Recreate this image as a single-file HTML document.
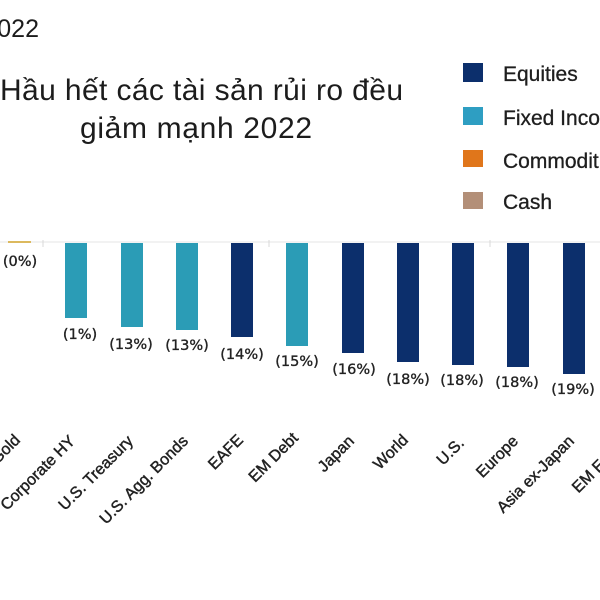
<!DOCTYPE html>
<html>
<head>
<meta charset="utf-8">
<style>
  html, body { margin: 0; padding: 0; background: #ffffff; }
  body { width: 600px; height: 600px; overflow: hidden; }
  svg { display: block; }
  .ttl { font-family: "Liberation Sans", "DejaVu Sans", sans-serif; fill: #1c1c1c; }
  .leg { font-family: "Liberation Sans", sans-serif; font-size: 21px; fill: #1e1e1e; stroke: #1e1e1e; stroke-width: 0.3px; }
  .val { font-family: "DejaVu Sans", "Liberation Sans", sans-serif; font-size: 14.5px; fill: #222; stroke: #222; stroke-width: 0.35px; text-anchor: middle; }
  .cat { font-family: "Liberation Sans", sans-serif; font-size: 16px; fill: #222; stroke: #222; stroke-width: 0.45px; text-anchor: end; }
</style>
</head>
<body>
<svg width="600" height="600" viewBox="0 0 600 600" xmlns="http://www.w3.org/2000/svg">
  <rect x="0" y="0" width="600" height="600" fill="#ffffff"/>

  <!-- top-left partial year -->
  <text class="ttl" x="39" y="37" font-size="25" text-anchor="end">2022</text>

  <!-- title -->
  <text class="ttl" x="0" y="100" font-size="30" textLength="403" lengthAdjust="spacing">Hầu hết các tài sản rủi ro đều</text>
  <text class="ttl" x="80" y="138" font-size="30" textLength="232" lengthAdjust="spacing">giảm mạnh 2022</text>

  <!-- legend -->
  <rect x="463" y="63" width="20" height="19" fill="#0c2f6c"/>
  <text class="leg" x="503" y="81">Equities</text>
  <rect x="463" y="107" width="20" height="18" fill="#2e9ec2"/>
  <text class="leg" x="503" y="125">Fixed Income</text>
  <rect x="463" y="150" width="20" height="17" fill="#e0761b"/>
  <text class="leg" x="503" y="168">Commodities</text>
  <rect x="463" y="192" width="20" height="17" fill="#b38f78"/>
  <text class="leg" x="503" y="209">Cash</text>

  <!-- zero line -->
  <line x1="0" y1="242" x2="600" y2="242" stroke="#e6e6e6" stroke-width="1"/>
  <line x1="43" y1="240" x2="43" y2="247" stroke="#d8d8d8" stroke-width="1"/>
  <line x1="269" y1="240" x2="269" y2="247" stroke="#d8d8d8" stroke-width="1"/>
  <line x1="490" y1="240" x2="490" y2="247" stroke="#d8d8d8" stroke-width="1"/>

  <!-- gold -->
  <rect x="8" y="241" width="23" height="2" fill="#dcb95e"/>

  <!-- bars -->
  <rect x="65"  y="243" width="22" height="75"  fill="#2b9cb6"/>
  <rect x="121" y="243" width="22" height="84"  fill="#2b9cb6"/>
  <rect x="176" y="243" width="22" height="87"  fill="#2b9cb6"/>
  <rect x="231" y="243" width="22" height="94"  fill="#0c2f6c"/>
  <rect x="286" y="243" width="22" height="103" fill="#2b9cb6"/>
  <rect x="342" y="243" width="22" height="110" fill="#0c2f6c"/>
  <rect x="397" y="243" width="22" height="119" fill="#0c2f6c"/>
  <rect x="452" y="243" width="22" height="122" fill="#0c2f6c"/>
  <rect x="507" y="243" width="22" height="124" fill="#0c2f6c"/>
  <rect x="563" y="243" width="22" height="131" fill="#0c2f6c"/>

  <!-- value labels -->
  <text class="val" x="20"  y="266">(0%)</text>
  <text class="val" x="80"  y="339">(1%)</text>
  <text class="val" x="131" y="349">(13%)</text>
  <text class="val" x="187" y="350">(13%)</text>
  <text class="val" x="242" y="359">(14%)</text>
  <text class="val" x="297" y="366">(15%)</text>
  <text class="val" x="354" y="374">(16%)</text>
  <text class="val" x="408" y="384">(18%)</text>
  <text class="val" x="462" y="385">(18%)</text>
  <text class="val" x="517" y="387">(18%)</text>
  <text class="val" x="573" y="394">(19%)</text>

  <!-- category labels -->
  <text class="cat" transform="translate(21,441) rotate(-45)">Gold</text>
  <text class="cat" transform="translate(76,442) rotate(-45)">Corporate HY</text>
  <text class="cat" transform="translate(134,442) rotate(-45)">U.S. Treasury</text>
  <text class="cat" transform="translate(189,442) rotate(-45)">U.S. Agg. Bonds</text>
  <text class="cat" transform="translate(244,441) rotate(-45)">EAFE</text>
  <text class="cat" transform="translate(299,439) rotate(-45)">EM Debt</text>
  <text class="cat" transform="translate(355,442) rotate(-45)">Japan</text>
  <text class="cat" transform="translate(409,441) rotate(-45)">World</text>
  <text class="cat" transform="translate(465,444) rotate(-45)">U.S.</text>
  <text class="cat" transform="translate(519,442) rotate(-45)">Europe</text>
  <text class="cat" transform="translate(575,442) rotate(-45)">Asia ex-Japan</text>
  <text class="cat" transform="translate(630,442) rotate(-45)">EM Equity</text>
</svg>
</body>
</html>
